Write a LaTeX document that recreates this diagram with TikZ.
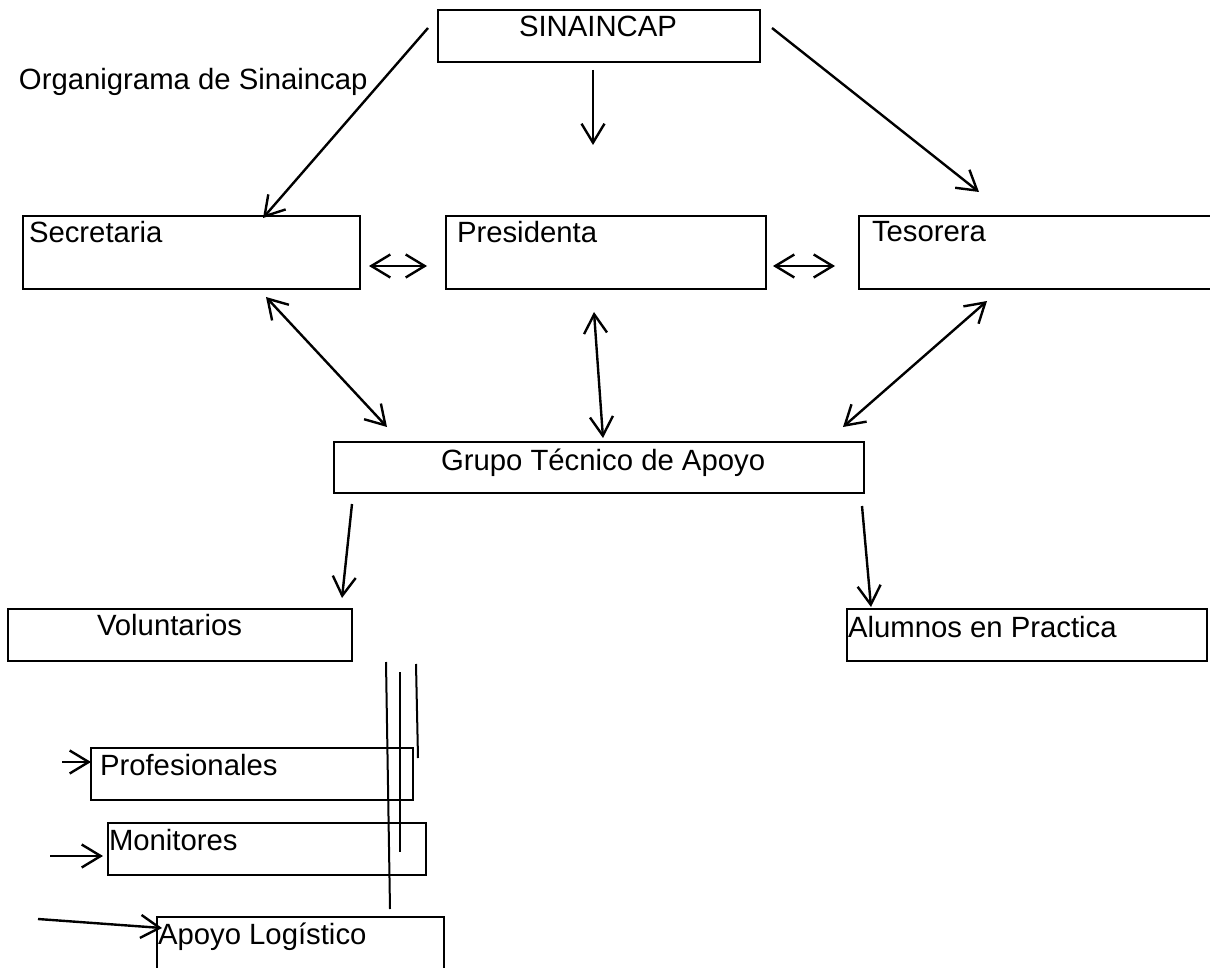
\documentclass[tikz,border=0pt]{standalone}
\usepackage{fontspec}
\setmainfont{Liberation Sans}
\usetikzlibrary{arrows.meta}
\tikzset{
  box/.style={draw, line width=2.8pt, rectangle, anchor=north west, inner sep=0pt, outer sep=0pt},
  lbl/.style={inner sep=0pt, outer sep=0pt, font=\fontsize{29.3}{34}\selectfont},
  barb/.tip={Straight Barb[length=19pt,width=23pt,line width=2.4pt]},
  arr/.style={line width=2.4pt, -barb},
  darr/.style={line width=2.4pt, barb-barb},
  thin/.style={line width=2pt}
}
\begin{document}
\begin{tikzpicture}[x=1pt,y=-1pt]
\clip (0,0) rectangle (1210,968);
\fill[white] (0,0) rectangle (1210,968);
% boxes
\node[box, minimum width=322pt, minimum height=52pt] (sin) at (438,10) {};
\node[box, minimum width=337pt, minimum height=73pt] (sec) at (23,216) {};
\node[box, minimum width=320pt, minimum height=73pt] (pre) at (446,216) {};
\node[box, minimum width=370pt, minimum height=73pt] (tes) at (859,216) {};
\node[box, minimum width=530pt, minimum height=51pt] (gru) at (334,442) {};
\node[box, minimum width=344pt, minimum height=52pt] (vol) at (8,609) {};
\node[box, minimum width=360pt, minimum height=52pt] (alu) at (847,609) {};
\node[box, minimum width=322pt, minimum height=52pt] (pro) at (91,748) {};
\node[box, minimum width=318pt, minimum height=52pt] (mon) at (108,823) {};
\node[box, minimum width=287pt, minimum height=80pt] (apo) at (157,917) {};
% texts
\node[lbl, anchor=base west] (org) at (19,90) {Organigrama de Sinaincap};
\node[lbl, anchor=base] (sin-t) at (598,37) {SINAINCAP};
\node[lbl, anchor=base west] (sec-t) at (29,243) {Secretaria};
\node[lbl, anchor=base west] (pre-t) at (457,243) {Presidenta};
\node[lbl, anchor=base west] (tes-t) at (872,242) {Tesorera};
\node[lbl, anchor=base west] (gru-t) at (441,470) {Grupo Técnico de Apoyo};
\node[lbl, anchor=base west] (vol-t) at (97,635) {Voluntarios};
\node[lbl, anchor=base west] (alu-t) at (848,637) {Alumnos en Practica};
\node[lbl, anchor=base west] (pro-t) at (100,775) {Profesionales};
\node[lbl, anchor=base west] (mon-t) at (109,850) {Monitores};
\node[lbl, anchor=base west] (apo-t) at (158,944) {Apoyo Logístico};
% connector end points
\coordinate (a1s) at (428,28);  \coordinate (a1e) at (263,218);
\coordinate (a2s) at (772,28);  \coordinate (a2e) at (979,192);
\coordinate (a3s) at (593,70);  \coordinate (a3e) at (593,145);
\coordinate (a4s) at (369,266); \coordinate (a4e) at (427,266);
\coordinate (a5s) at (773,266); \coordinate (a5e) at (835,266);
\coordinate (a6s) at (266,297); \coordinate (a6e) at (387,427);
\coordinate (a7s) at (594,312); \coordinate (a7e) at (603,438);
\coordinate (a8s) at (987,301); \coordinate (a8e) at (843,427);
\coordinate (a9s) at (352,504); \coordinate (a9e) at (342,598);
\coordinate (a10s) at (862,506); \coordinate (a10e) at (871,607);
\coordinate (a11s) at (62,762); \coordinate (a11e) at (91,762);
\coordinate (a12s) at (50,856); \coordinate (a12e) at (103,856);
\coordinate (a13s) at (38,919); \coordinate (a13e) at (162,928);
\coordinate (l1s) at (386,662); \coordinate (l1e) at (390,909);
\coordinate (l2s) at (400,672); \coordinate (l2e) at (400,852);
\coordinate (l3s) at (416,664); \coordinate (l3e) at (418,758);
% connectors
\draw[arr] (a1s) -- (a1e);
\draw[arr] (a2s) -- (a2e);
\draw[arr] (a3s) -- (a3e);
\draw[darr] (a4s) -- (a4e);
\draw[darr] (a5s) -- (a5e);
\draw[darr] (a6s) -- (a6e);
\draw[darr] (a7s) -- (a7e);
\draw[darr] (a8s) -- (a8e);
\draw[arr] (a9s) -- (a9e);
\draw[arr] (a10s) -- (a10e);
\draw[arr] (a11s) -- (a11e);
\draw[arr] (a12s) -- (a12e);
\draw[arr] (a13s) -- (a13e);
\draw[thin] (l1s) -- (l1e);
\draw[thin] (l2s) -- (l2e);
\draw[thin] (l3s) -- (l3e);
\end{tikzpicture}
\end{document}
